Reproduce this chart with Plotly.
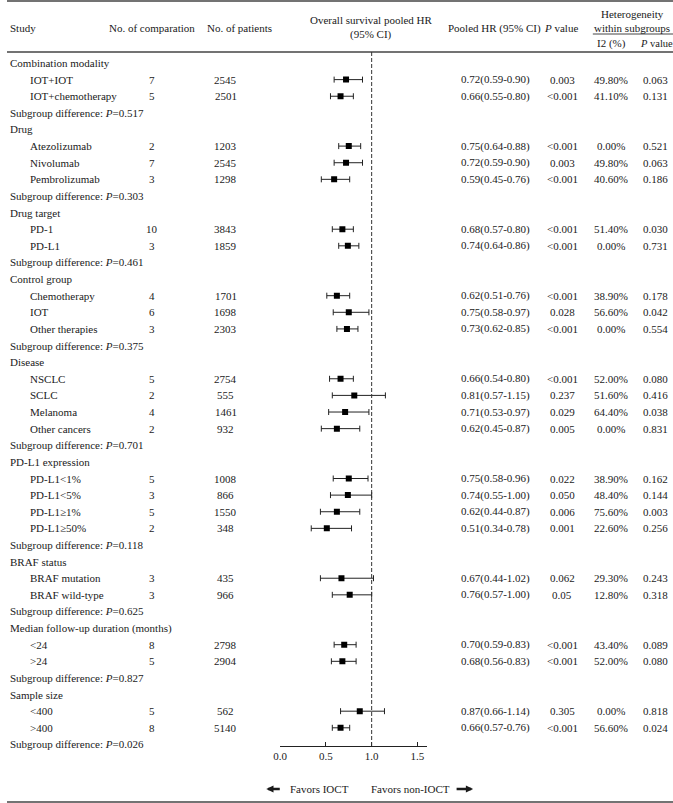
import plotly.graph_objects as go

# ---------------- data ----------------
groups = ["Combination modality", "Drug", "Drug target", "Control group", "Disease",
          "PD-L1 expression", "BRAF status", "Median follow-up duration (months)", "Sample size"]
group_sizes = [2, 3, 2, 3, 4, 4, 2, 2, 2]
subgroup_p = ["0.517", "0.303", "0.461", "0.375", "0.701", "0.118", "0.625", "0.827", "0.026"]

labels = ["IOT+IOT", "IOT+chemotherapy",
          "Atezolizumab", "Nivolumab", "Pembrolizumab",
          "PD-1", "PD-L1",
          "Chemotherapy", "IOT", "Other therapies",
          "NSCLC", "SCLC", "Melanoma", "Other cancers",
          "PD-L1<1%", "PD-L1<5%", "PD-L1≥1%", "PD-L1≥50%",
          "BRAF mutation", "BRAF wild-type",
          "<24", ">24",
          "<400", ">400"]
n_comp = [7, 5, 2, 7, 3, 10, 3, 4, 6, 3, 5, 2, 4, 2, 5, 3, 5, 2, 3, 3, 8, 5, 5, 8]
n_pat = [2545, 2501, 1203, 2545, 1298, 3843, 1859, 1701, 1698, 2303, 2754, 555, 1461, 932,
         1008, 866, 1550, 348, 435, 966, 2798, 2904, 562, 5140]
hr = [0.72, 0.66, 0.75, 0.72, 0.59, 0.68, 0.74, 0.62, 0.75, 0.73, 0.66, 0.81, 0.71, 0.62,
      0.75, 0.74, 0.62, 0.51, 0.67, 0.76, 0.70, 0.68, 0.87, 0.66]
lo = [0.59, 0.55, 0.64, 0.59, 0.45, 0.57, 0.64, 0.51, 0.58, 0.62, 0.54, 0.57, 0.53, 0.45,
      0.58, 0.55, 0.44, 0.34, 0.44, 0.57, 0.59, 0.56, 0.66, 0.57]
hi = [0.90, 0.80, 0.88, 0.90, 0.76, 0.80, 0.86, 0.76, 0.97, 0.85, 0.80, 1.15, 0.97, 0.87,
      0.96, 1.00, 0.87, 0.78, 1.02, 1.00, 0.83, 0.83, 1.14, 0.76]
p_value = ["0.003", "<0.001", "<0.001", "0.003", "<0.001", "<0.001", "<0.001", "<0.001", "0.028",
           "<0.001", "<0.001", "0.237", "0.029", "0.005", "0.022", "0.050", "0.006", "0.001",
           "0.062", "0.05", "<0.001", "<0.001", "0.305", "<0.001"]
i2 = ["49.80%", "41.10%", "0.00%", "49.80%", "40.60%", "51.40%", "0.00%", "38.90%", "56.60%",
      "0.00%", "52.00%", "51.60%", "64.40%", "0.00%", "38.90%", "48.40%", "75.60%", "22.60%",
      "29.30%", "12.80%", "43.40%", "52.00%", "0.00%", "56.60%"]
p_het = ["0.063", "0.131", "0.521", "0.063", "0.186", "0.030", "0.731", "0.178", "0.042",
         "0.554", "0.080", "0.416", "0.038", "0.831", "0.162", "0.144", "0.003", "0.256",
         "0.243", "0.318", "0.089", "0.080", "0.818", "0.024"]
x_ticks = [0.0, 0.5, 1.0, 1.5]
x_ticktext = ["0.0", "0.5", "1.0", "1.5"]

# ---------------- layout helpers ----------------
W, H = 673, 803
FONT = "Liberation Serif, Times New Roman, serif"
FS = 11
COL = "#1a1a1a"
ROW0, ROWH = 63.0, 16.62          # pixel y of first row, row height


def px(x):
    return x / W


def py(y):                         # pixel from top -> paper
    return 1 - y / H


# build row order
row_items = []   # (row_index, kind, payload)
r = 0
k = 0
for g, size, sp in zip(groups, group_sizes, subgroup_p):
    row_items.append((r, "group", g)); r += 1
    for _ in range(size):
        row_items.append((r, "item", k)); r += 1; k += 1
    row_items.append((r, "sub", sp)); r += 1

item_rows = [ri for ri, kind, _ in row_items if kind == "item"]

ann = []


def txt(x, y, s, anchor="center", size=FS, yref="y"):
    ann.append(dict(x=px(x), y=y, xref="paper", yref=yref, text=s, showarrow=False,
                    xanchor=anchor, yanchor="middle", borderpad=0,
                    font=dict(family=FONT, size=size, color=COL)))


for ri, kind, val in row_items:
    if kind == "group":
        txt(2, ri, val, "left")
    elif kind == "sub":
        txt(2, ri, f"Subgroup difference: <i>P</i>={val}", "left")
    else:
        j = val
        txt(22, ri, labels[j], "left")
        txt(147, ri, str(n_comp[j]))
        txt(221, ri, str(n_pat[j]))
        txt(494, ri, f"{hr[j]:.2f}({lo[j]:.2f}-{hi[j]:.2f})")
        txt(561, ri, p_value[j])
        txt(610, ri, i2[j])
        txt(655, ri, p_het[j])

# header
def hrow(y):
    return (y - ROW0) / ROWH

txt(2, hrow(28), "Study", "left")
txt(147, hrow(28), "No. of comparation")
txt(235, hrow(28), "No. of patients")
txt(368, hrow(20), "Overall survival pooled HR")
txt(368, hrow(34), "(95% CI)")
txt(493, hrow(28), "Pooled HR (95% CI)")
txt(560, hrow(28), "<i>P</i> value")
txt(632, hrow(14), "Heterogeneity")
txt(632, hrow(28), "within subgroups")
txt(611, hrow(43), "I2 (%)")
txt(656, hrow(43), "<i>P</i> value", size=10.5)

# bottom legend
ann.append(dict(x=px(262), y=py(789), xref="paper", yref="paper", ax=15, ay=0, text="",
                showarrow=True, arrowhead=2, arrowsize=0.6, arrowwidth=2.4, arrowcolor=COL))
ann.append(dict(x=px(471), y=py(789), xref="paper", yref="paper", ax=-18, ay=0, text="",
                showarrow=True, arrowhead=2, arrowsize=0.6, arrowwidth=2.4, arrowcolor=COL))
ann.append(dict(x=px(285), y=py(789), xref="paper", yref="paper", text="Favors IOCT",
                showarrow=False, xanchor="left", yanchor="middle", borderpad=0,
                font=dict(family=FONT, size=FS, color=COL)))
ann.append(dict(x=px(367), y=py(789), xref="paper", yref="paper", text="Favors non-IOCT",
                showarrow=False, xanchor="left", yanchor="middle", borderpad=0,
                font=dict(family=FONT, size=FS, color=COL)))

fig = go.Figure()
fig.add_trace(go.Scatter(
    x=hr, y=item_rows, mode="markers",
    marker=dict(symbol="square", size=6, color="black"),
    error_x=dict(type="data", symmetric=False,
                 array=[h - m for h, m in zip(hi, hr)],
                 arrayminus=[m - l for m, l in zip(hr, lo)],
                 color="#222", thickness=1, width=3),
    showlegend=False, hoverinfo="skip"))

line_col = "#444"
shapes = [
    dict(type="line", xref="paper", yref="paper", x0=0, x1=1, y0=py(1), y1=py(1),
         line=dict(color=line_col, width=1.5)),
    dict(type="line", xref="paper", yref="paper", x0=0, x1=1, y0=py(52), y1=py(52),
         line=dict(color=line_col, width=1.5)),
    dict(type="line", xref="paper", yref="paper", x0=px(592), x1=1, y0=py(34), y1=py(34),
         line=dict(color=line_col, width=1)),
    dict(type="line", xref="paper", yref="paper", x0=0, x1=1, y0=py(802), y1=py(802),
         line=dict(color=line_col, width=1.5)),
    dict(type="line", xref="x", yref="paper", x0=1.0, x1=1.0, y0=py(746), y1=py(50),
         line=dict(color="#333", width=1, dash="4px,2px")),
]

fig.update_layout(
    width=W, height=H, margin=dict(l=0, r=0, t=0, b=0),
    paper_bgcolor="white", plot_bgcolor="white",
    annotations=ann, shapes=shapes,
    xaxis=dict(domain=[px(276), px(424)], range=[0, 1.6], anchor="free", position=py(746),
               showline=True, linecolor="#222", linewidth=1, showgrid=False, zeroline=False,
               ticks="inside", ticklen=4, tickcolor="#222",
               tickvals=x_ticks, ticktext=x_ticktext,
               tickfont=dict(family=FONT, size=FS, color=COL)),
    yaxis=dict(domain=[0, 1], range=[(H - ROW0) / ROWH, -ROW0 / ROWH], visible=False,
               showgrid=False, zeroline=False),
)

fig.write_html("out.html", config={"displayModeBar": False},
               post_script="document.body.style.margin='0';document.body.style.overflow='hidden';")
